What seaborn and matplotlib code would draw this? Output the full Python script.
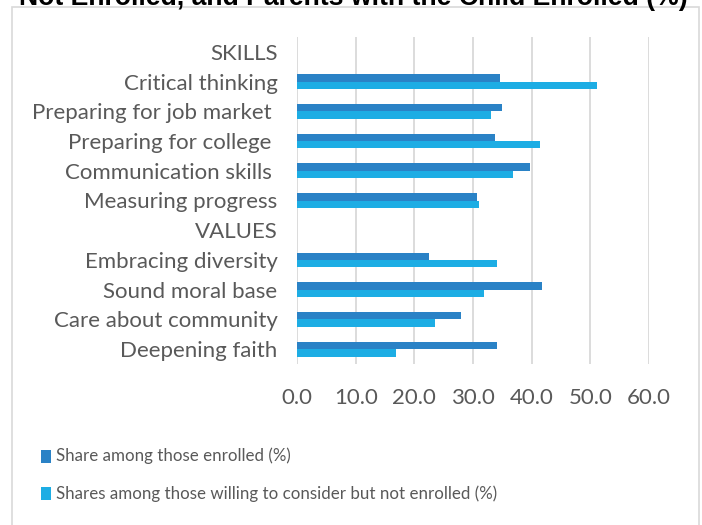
import matplotlib
matplotlib.use("Agg")
import matplotlib.pyplot as plt
import seaborn as sns
import pandas as pd
import numpy as np
from matplotlib.patches import Rectangle

categories = ["SKILLS", "Critical thinking", "Preparing for job market ", "Preparing for college ",
              "Communication skills ", "Measuring progress", "VALUES", "Embracing diversity",
              "Sound moral base", "Care about community", "Deepening faith"]
enrolled = [np.nan, 34.6, 34.9, 33.7, 39.7, 30.6, np.nan, 22.5, 41.8, 27.9, 34.1]
considering = [np.nan, 51.1, 33.1, 41.5, 36.8, 31.1, np.nan, 34.1, 31.8, 23.6, 16.8]
series = ["Share among those enrolled (%)",
          "Shares among those willing to consider but not enrolled (%)"]
x_ticks = [0, 10, 20, 30, 40, 50, 60]
title = "Not Enrolled, and Parents with the Child Enrolled (%)"

df = pd.DataFrame({
    "category": categories * 2,
    "value": enrolled + considering,
    "series": [series[0]] * len(categories) + [series[1]] * len(categories),
})

sns.set_theme(style="white")
plt.rcParams["font.family"] = ["Lato", "DejaVu Sans"]
text_color = "#595959"

fig = plt.figure(figsize=(7.02, 5.25), dpi=100)
ax = fig.add_axes([297 / 702, 1 - 364 / 525, (649 - 297) / 702, (364 - 37) / 525])

palette = {series[0]: "#2A82C6", series[1]: "#1DADE4"}
sns.barplot(data=df, y="category", x="value", hue="series", order=categories,
            hue_order=series, palette=palette, orient="h", width=0.5,
            saturation=1, ax=ax, legend=False, edgecolor="none")

ax.set_xlim(0, 60)
ax.set_ylim(len(categories) - 0.5, -0.5)
ax.set_xticks(x_ticks)
ax.set_xticklabels([f"{v:.1f}" for v in x_ticks], fontsize=16, color=text_color)
ax.tick_params(axis="y", labelsize=16, labelcolor=text_color, length=0, pad=14)
ax.tick_params(axis="x", length=0, pad=17)
ax.set_xlabel("")
ax.set_ylabel("")
ax.grid(axis="x", color="#D9D9D9", linewidth=1.3)
ax.set_axisbelow(True)
for s in ax.spines.values():
    s.set_visible(False)

# chart frame
fig.patches.append(Rectangle((12 / 702, -0.1), (699 - 12) / 702, 1.1 - 7 / 525,
                             transform=fig.transFigure, fill=False,
                             edgecolor="#D9D9D9", linewidth=1.2))

fig.text(353.5 / 702, 1 - 5 / 525, title, ha="center", va="baseline", fontsize=19.2,
         fontweight="bold", family=["Liberation Sans", "DejaVu Sans"], color="#000000")

# legend
legend_y = [456, 493.5]
for name, yy in zip(series, legend_y):
    fig.patches.append(Rectangle((41 / 702, 1 - (yy + 6.5) / 525), 10 / 702, 13 / 525,
                                 transform=fig.transFigure, facecolor=palette[name],
                                 edgecolor="none"))
    fig.text(55.5 / 702, 1 - yy / 525, name, ha="left", va="center",
             fontsize=12.2, color=text_color)

fig.savefig("out.png", dpi=100)
